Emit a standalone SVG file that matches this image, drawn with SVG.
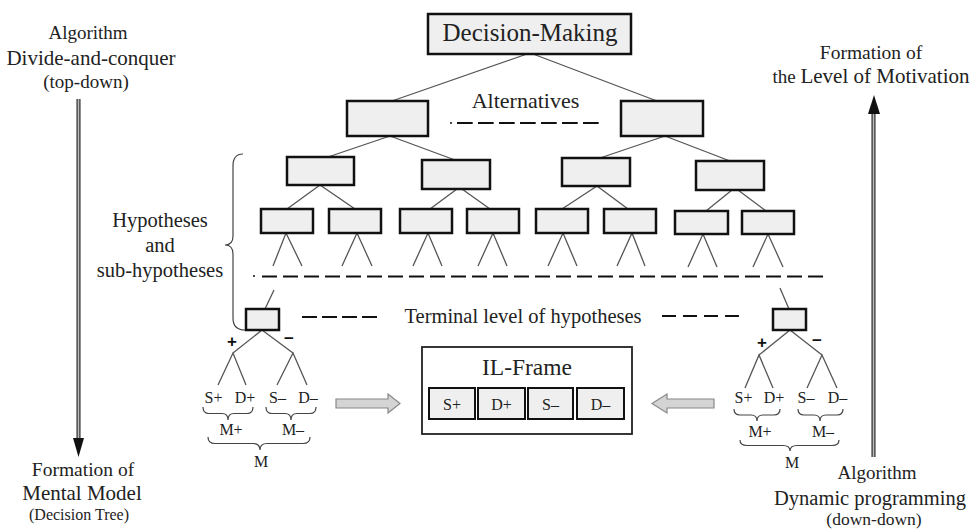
<svg xmlns="http://www.w3.org/2000/svg" width="973" height="531" viewBox="0 0 973 531">
  <style>
    text { font-family: "Liberation Serif", "Times New Roman", serif; fill: #222; }
    .mid { text-anchor: middle; }
    .box { fill: #efefef; stroke: #111; stroke-width: 2.5; }
    .cell { fill: #efefef; stroke: #111; stroke-width: 2; }
    .edge { stroke: #555; stroke-width: 1.3; fill: none; }
    .dash { stroke: #111; stroke-width: 1.8; fill: none; }
    .brace { stroke: #444; stroke-width: 1.2; fill: none; }
    .shaftOuter { stroke: #444; stroke-width: 4.2; }
    .shaftInner { stroke: #bbb; stroke-width: 1.4; }
    .block { fill: #d4d4d4; stroke: #888; stroke-width: 1.2; }
    .sign { font-family: "Liberation Sans", Arial, sans-serif; font-weight: bold; font-size: 17px; fill: #111; }
    .lbl { font-size: 16px; }
  </style>

  <!-- side captions and vertical process arrows -->
  <g id="left-caption">
    <text class="mid" x="88" y="39" font-size="19">Algorithm</text>
    <text class="mid" x="91" y="65" font-size="21">Divide-and-conquer</text>
    <text class="mid" x="86" y="88" font-size="19">(top-down)</text>
    <line class="shaftOuter" x1="78.5" y1="99" x2="78.5" y2="440"/>
    <line class="shaftInner" x1="78.5" y1="99" x2="78.5" y2="440"/>
    <polygon points="73,438 84,438 78.5,457" fill="#111"/>
    <text class="mid" x="83" y="476" font-size="19.5">Formation of</text>
    <text class="mid" x="82" y="500" font-size="21">Mental Model</text>
    <text class="mid" x="79" y="520" font-size="16">(Decision Tree)</text>
  </g>

  <g id="right-caption">
    <text class="mid" x="871" y="59" font-size="19.5">Formation of</text>
    <text class="mid" x="871" y="83"><tspan font-size="19">the </tspan><tspan font-size="21">Level of Motivation</tspan></text>
    <line class="shaftOuter" x1="873.5" y1="112" x2="873.5" y2="457"/>
    <line class="shaftInner" x1="873.5" y1="112" x2="873.5" y2="457"/>
    <polygon points="868,114 880,114 874,95" fill="#111"/>
    <text class="mid" x="877" y="479" font-size="19">Algorithm</text>
    <text class="mid" x="870" y="505" font-size="20.5">Dynamic programming</text>
    <text class="mid" x="874" y="525" font-size="17.5">(down-down)</text>
  </g>

  <!-- tree connectors -->
  <g id="connectors">
    <line class="edge" x1="527" y1="54" x2="392" y2="101"/>
    <line class="edge" x1="533" y1="54" x2="657" y2="101"/>
    <line class="edge" x1="390" y1="136" x2="325" y2="158"/>
    <line class="edge" x1="390" y1="136" x2="455" y2="160"/>
    <line class="edge" x1="665" y1="136" x2="600" y2="158"/>
    <line class="edge" x1="665" y1="136" x2="730" y2="161"/>
    <line class="edge" x1="320" y1="185" x2="287" y2="209"/>
    <line class="edge" x1="320" y1="185" x2="355" y2="209"/>
    <line class="edge" x1="457" y1="189" x2="430" y2="209"/>
    <line class="edge" x1="462" y1="189" x2="490" y2="209"/>
    <line class="edge" x1="597" y1="186" x2="562" y2="209"/>
    <line class="edge" x1="597" y1="186" x2="628" y2="209"/>
    <line class="edge" x1="732" y1="190" x2="706" y2="211"/>
    <line class="edge" x1="738" y1="190" x2="766" y2="211"/>
    <!-- open forks below the fourth level -->
    <polyline class="edge" points="273,266 286,233 302,266"/>
    <polyline class="edge" points="342,266 357,233 372,266"/>
    <polyline class="edge" points="413,266 428,233 442,266"/>
    <polyline class="edge" points="478,266 493,233 507,266"/>
    <polyline class="edge" points="548,266 563,233 577,266"/>
    <polyline class="edge" points="617,266 632,233 645,266"/>
    <polyline class="edge" points="688,267 703,234 717,267"/>
    <polyline class="edge" points="753,267 768,234 783,267"/>
    <!-- into terminal boxes -->
    <line class="edge" x1="274" y1="290" x2="265" y2="309"/>
    <line class="edge" x1="780" y1="288" x2="789" y2="309"/>
    <!-- left terminal split -->
    <line class="edge" x1="262" y1="330" x2="233" y2="353"/>
    <line class="edge" x1="262" y1="330" x2="293" y2="353"/>
    <polyline class="edge" points="218,385 233,353 246,385"/>
    <polyline class="edge" points="277,385 293,353 307,385"/>
    <!-- right terminal split -->
    <line class="edge" x1="790" y1="330" x2="759" y2="355"/>
    <line class="edge" x1="790" y1="330" x2="822" y2="355"/>
    <polyline class="edge" points="745,388 759,355 773,388"/>
    <polyline class="edge" points="807,388 822,355 837,388"/>
  </g>

  <!-- level separators -->
  <g id="separators">
    <circle cx="451" cy="123" r="1" fill="#111"/>
    <line class="dash" x1="457" y1="123" x2="600" y2="123" stroke-dasharray="15.7 5.3"/>
    <circle cx="254" cy="276" r="1" fill="#111"/>
    <line class="dash" x1="262" y1="276.5" x2="826" y2="276.5" stroke-dasharray="15 6"/>
    <line class="dash" x1="302" y1="317" x2="377" y2="317" stroke-dasharray="15 5"/>
    <line class="dash" x1="662" y1="316" x2="739" y2="316" stroke-dasharray="14 7"/>
  </g>

  <g id="root">
    <rect class="box" x="428" y="14" width="203" height="40"/>
    <text class="mid" x="530" y="41" font-size="25">Decision-Making</text>
  </g>

  <g id="alternatives">
    <rect class="box" x="347" y="101" width="81" height="35"/>
    <rect class="box" x="621" y="101" width="82" height="35"/>
    <text class="mid" x="525.5" y="108" font-size="22">Alternatives</text>
  </g>

  <g id="level-3">
    <rect class="box" x="287" y="157" width="67" height="28"/>
    <rect class="box" x="422" y="160" width="68" height="29"/>
    <rect class="box" x="562" y="158" width="68" height="28"/>
    <rect class="box" x="696" y="161" width="68" height="29"/>
  </g>

  <g id="level-4">
    <rect class="box" x="261" y="209" width="52" height="24"/>
    <rect class="box" x="329" y="209" width="52" height="24"/>
    <rect class="box" x="400" y="209" width="52" height="24"/>
    <rect class="box" x="467" y="209" width="52" height="24"/>
    <rect class="box" x="536" y="209" width="52" height="24"/>
    <rect class="box" x="604" y="209" width="52" height="24"/>
    <rect class="box" x="675" y="211" width="53" height="23"/>
    <rect class="box" x="742" y="211" width="52" height="23"/>
  </g>

  <g id="hypotheses-label">
    <path class="brace" d="M243,154 Q233,154 233,166 L233,236 Q233,245 225,245 Q233,245 233,254 L233,318 Q233,330 245,330"/>
    <text class="mid" x="160" y="227" font-size="20.5">Hypotheses</text>
    <text class="mid" x="160" y="252" font-size="20.5">and</text>
    <text class="mid" x="160" y="277" font-size="20.5">sub-hypotheses</text>
  </g>

  <g id="terminal-level">
    <rect class="box" x="246" y="309" width="33" height="21"/>
    <rect class="box" x="773" y="309" width="33" height="21"/>
    <text class="mid" x="523" y="323" font-size="20.5">Terminal level of hypotheses</text>
  </g>

  <g id="left-split">
    <text class="sign mid" x="232" y="347">+</text>
    <text class="sign mid" x="289" y="344">−</text>
    <text class="lbl mid" x="213.5" y="403">S+</text>
    <text class="lbl mid" x="245" y="403">D+</text>
    <text class="lbl mid" x="277.5" y="403">S–</text>
    <text class="lbl mid" x="308" y="403">D–</text>
    <path class="brace" d="M203,407 Q203,413.5 209,413.5 L222,413.5 Q228,413.5 228,420 Q228,413.5 234,413.5 L247,413.5 Q253,413.5 253,407"/>
    <path class="brace" d="M266,407 Q266,413.5 272,413.5 L285,413.5 Q291,413.5 291,420 Q291,413.5 297,413.5 L310,413.5 Q316,413.5 316,407"/>
    <text class="lbl mid" x="231" y="435">M+</text>
    <text class="lbl mid" x="293" y="435">M–</text>
    <path class="brace" d="M208,437 Q208,443.5 215,443.5 L253,443.5 Q260,443.5 260,450 Q260,443.5 267,443.5 L303,443.5 Q310,443.5 310,437"/>
    <text class="lbl mid" x="261" y="467">M</text>
  </g>

  <g id="right-split">
    <text class="sign mid" x="762" y="348">+</text>
    <text class="sign mid" x="817" y="346">−</text>
    <text class="lbl mid" x="743.5" y="403">S+</text>
    <text class="lbl mid" x="774" y="403">D+</text>
    <text class="lbl mid" x="806" y="403">S–</text>
    <text class="lbl mid" x="837.5" y="403">D–</text>
    <path class="brace" d="M734,409 Q734,415 740,415 L751,415 Q757,415 757,421 Q757,415 763,415 L774,415 Q780,415 780,409"/>
    <path class="brace" d="M798,409 Q798,415 804,415 L814,415 Q820,415 820,421 Q820,415 826,415 L837,415 Q843,415 843,409"/>
    <text class="lbl mid" x="760" y="437">M+</text>
    <text class="lbl mid" x="823" y="437">M–</text>
    <path class="brace" d="M740,440 Q740,445.5 747,445.5 L783,445.5 Q790,445.5 790,451 Q790,445.5 797,445.5 L832,445.5 Q839,445.5 839,440"/>
    <text class="lbl mid" x="792" y="468">M</text>
  </g>

  <g id="il-frame">
    <rect x="422" y="347" width="210" height="87" fill="#fff" stroke="#222" stroke-width="1.8"/>
    <text class="mid" x="527" y="375" font-size="23.5">IL-Frame</text>
    <rect class="cell" x="429" y="388" width="46" height="31"/>
    <rect class="cell" x="478" y="388" width="47" height="31"/>
    <rect class="cell" x="528" y="388" width="45" height="31"/>
    <rect class="cell" x="577" y="388" width="47" height="31"/>
    <text class="lbl mid" x="452" y="410">S+</text>
    <text class="lbl mid" x="501.5" y="410">D+</text>
    <text class="lbl mid" x="550.5" y="410">S–</text>
    <text class="lbl mid" x="600.5" y="410">D–</text>
  </g>

  <g id="feed-arrows">
    <polygon class="block" points="336,399 388,399 388,394 400,403.5 388,413 388,408 336,408"/>
    <polygon class="block" points="714,399 667,399 667,394 652,403.5 667,413 667,408 714,408"/>
  </g>
</svg>
